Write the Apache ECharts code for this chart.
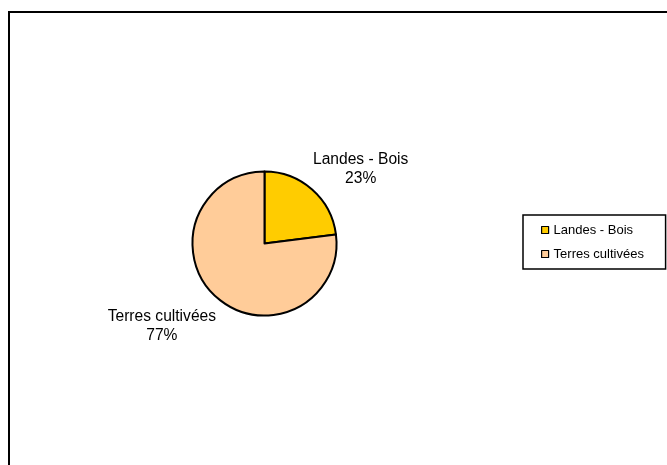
<!DOCTYPE html>
<html>
<head>
<meta charset="utf-8">
<script src="https://cdn.jsdelivr.net/npm/echarts@6/dist/echarts.min.js"></script>
<style>
html,body{margin:0;padding:0;background:#fff;}
#chart{width:667px;height:465px;}
</style>
</head>
<body>
<div id="chart"></div>
<script>
const categories = ['Landes - Bois', 'Terres cultivées'];
const values = [23, 77];
const colors = ['#FFCC00', '#FFCC99'];

const FONT = '"Liberation Sans", Arial, sans-serif';
const chart = echarts.init(document.getElementById('chart'), null, {renderer: 'canvas'});
chart.setOption({
  animation: false,
  backgroundColor: '#ffffff',
  color: colors,
  graphic: [{
    type: 'rect',
    shape: {x: 9, y: 12, width: 700, height: 500},
    style: {fill: 'none', stroke: '#000', lineWidth: 2},
    silent: true
  }],
  legend: {
    orient: 'vertical',
    left: 523,
    top: 215,
    icon: 'rect',
    itemWidth: 7,
    itemHeight: 7,
    itemGap: 10,
    padding: [8, 17, 8, 18],
    borderColor: '#000',
    borderWidth: 1.5,
    backgroundColor: '#fff',
    itemStyle: {borderColor: '#000', borderWidth: 1.2},
    textStyle: {fontSize: 13, lineHeight: 14, width: 95, color: '#000', fontFamily: FONT},
    data: categories
  },
  series: [{
    type: 'pie',
    center: [264.5, 243.5],
    radius: 72,
    startAngle: 90,
    clockwise: true,
    avoidLabelOverlap: false,
    percentPrecision: 0,
    itemStyle: {borderColor: '#000', borderWidth: 2},
    emphasis: {disabled: true},
    label: {
      show: true,
      position: 'outside',
      distanceToLabelLine: -20.5,
      padding: [8, 0, 0, 0],
      formatter: '{a|{b}}\n{a|{d}%}',
      color: '#000',
      fontFamily: FONT,
      fontSize: 15.6,
      rich: {
        a: {align: 'center', fontSize: 15.6, lineHeight: 19, color: '#000', fontFamily: FONT}
      }
    },
    labelLine: {show: true, length: 32.3, length2: 0, lineStyle: {opacity: 0}},
    data: categories.map((c, i) => ({name: c, value: values[i]}))
  }]
});
</script>
</body>
</html>
